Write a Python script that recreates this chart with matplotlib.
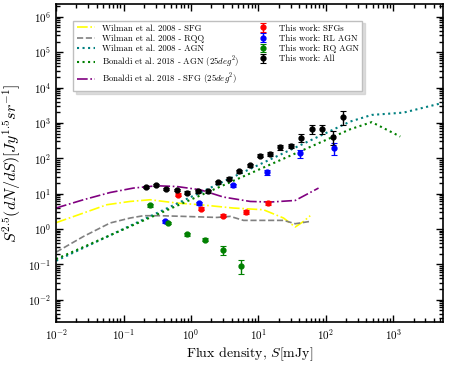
import numpy as np
import matplotlib
matplotlib.use("Agg")
import matplotlib.pyplot as plt
from matplotlib.ticker import LogLocator, NullFormatter

plt.rcParams['font.family'] = 'serif'
plt.rcParams['font.serif'] = ['cmr10', 'DejaVu Serif']
plt.rcParams['mathtext.fontset'] = 'cm'
plt.rcParams['axes.formatter.use_mathtext'] = True
plt.rcParams['axes.unicode_minus'] = False

# ---- Data: model curves ----
wil_sfg_S = [0.01, 0.0254, 0.0565, 0.125, 0.248, 0.618, 1.37, 4.28, 11.9, 23.6, 35.2, 46.7, 58.7]
wil_sfg_v = [1.5, 2.81, 4.83, 5.98, 6.68, 5.38, 4.83, 3.89, 3.48, 2.03, 1.13, 1.63, 2.36]

wil_rqq_S = [0.01, 0.0254, 0.0632, 0.125, 0.197, 0.349, 0.774, 2.42, 3.82, 6.01, 23.6, 35.2, 58.7]
wil_rqq_v = [0.22, 0.61, 1.47, 2.03, 2.36, 2.36, 2.26, 2.11, 2.26, 1.74, 1.74, 1.40, 1.63]

wil_agn_S = [0.01, 230, 480, 1420, 5500]
wil_agn_v = [0.125, 1090, 1680, 1950, 3700]

bon_agn_S = [0.01, 230, 480, 1270]
bon_agn_v = [0.14, 660, 1050, 410]

bon_sfg_S = [0.01, 0.0254, 0.0632, 0.140, 0.312, 0.618, 1.37, 3.03, 7.55, 15.0, 35.2, 78.0]
bon_sfg_v = [3.9, 6.68, 10.7, 14.3, 16.6, 15.8, 12.8, 7.96, 5.98, 5.75, 6.38, 14.3]

# ---- Data: this work ----
sfg_S = [0.646, 1.42, 3.0, 6.6, 14.1]
sfg_v = [9.25, 3.72, 2.36, 3.06, 5.38]
sfg_e = [0.8, 0.35, 0.22, 0.35, 0.6]

rl_S = [0.414, 1.32, 4.18, 13.4, 41.7, 130]
rl_v = [1.63, 5.25, 17.4, 40.4, 139, 193]
rl_e = [0.15, 0.5, 1.8, 7.0, 35, 70]

rq_S = [0.248, 0.463, 0.87, 1.59, 2.94, 5.5]
rq_v = [4.6, 1.47, 0.72, 0.49, 0.254, 0.092]
rq_e = [0.4, 0.13, 0.07, 0.05, 0.07, 0.04]

all_S = [0.214, 0.305, 0.428, 0.618, 0.87, 1.25, 1.78, 2.56, 3.65, 5.19, 7.38,
         10.4, 15.0, 21.1, 30.3, 43.1, 61.4, 87.5, 126, 177]
all_v = [14.9, 17.7, 13.4, 12.8, 10.7, 11.5, 11.5, 20.6, 26.2, 43.1, 62.2,
         119, 133, 206, 224, 384, 664, 690, 410, 1507]
all_e = [1.0, 1.2, 1.0, 1.0, 0.9, 1.0, 1.0, 1.8, 2.5, 4, 6,
         12, 18, 30, 35, 100, 180, 200, 180, 650]

fig = plt.figure(figsize=(4.49, 3.69), dpi=100)
ax = fig.add_axes([0.125, 0.127, 0.862, 0.862])

ax.plot(wil_sfg_S, wil_sfg_v, color='yellow', ls='-.', lw=1.2, label='Wilman et al. 2008 - SFG')
ax.plot(wil_rqq_S, wil_rqq_v, color='gray', ls='--', lw=1.2, label='Wilman et al. 2008 - RQQ')
ax.plot(wil_agn_S, wil_agn_v, color='teal', ls=':', lw=1.5, label='Wilman et al. 2008 - AGN')
ax.plot(bon_agn_S, bon_agn_v, color='green', ls=':', lw=1.5, label=r'Bonaldi et al. 2018 - AGN $(25deg^2)$')
ax.plot(bon_sfg_S, bon_sfg_v, color='purple', ls='-.', lw=1.2, label=r'Bonaldi et al. 2018 - SFG $(25deg^2)$')

ekw = dict(fmt='o', ms=3.5, capsize=2, elinewidth=1, capthick=0.8, lw=0)
ax.errorbar(sfg_S, sfg_v, yerr=sfg_e, color='red', label='This work: SFGs', **ekw)
ax.errorbar(rl_S, rl_v, yerr=rl_e, color='blue', label='This work: RL AGN', **ekw)
ax.errorbar(rq_S, rq_v, yerr=rq_e, color='green', label='This work: RQ AGN', **ekw)
ax.errorbar(all_S, all_v, yerr=all_e, color='black', label='This work: All', **ekw)

ax.set_xscale('log')
ax.set_yscale('log')
ax.set_xlim(0.01, 5500)
ax.set_ylim(0.0023, 2.3e6)

ax.xaxis.set_major_locator(LogLocator(base=10, numticks=20))
ax.yaxis.set_major_locator(LogLocator(base=10, numticks=20))
ax.xaxis.set_minor_locator(LogLocator(base=10, subs=np.arange(2, 10), numticks=100))
ax.yaxis.set_minor_locator(LogLocator(base=10, subs=np.arange(2, 10), numticks=100))
ax.xaxis.set_minor_formatter(NullFormatter())
ax.yaxis.set_minor_formatter(NullFormatter())
ax.tick_params(which='both', direction='in', top=True, right=True, labelsize=8, width=1)
ax.tick_params(which='major', length=5)
ax.tick_params(which='minor', length=3)
for s in ax.spines.values():
    s.set_linewidth(1.2)

ax.set_xlabel(r'Flux density, $S$[mJy]', fontsize=10, labelpad=3)
ax.set_ylabel(r'$S^{2.5}(dN/dS)[Jy^{1.5}sr^{-1}]$', fontsize=11.5)

ax.legend(loc='upper left', bbox_to_anchor=(0.044, 0.948), ncol=2, fontsize=6.3,
          frameon=True, fancybox=False, shadow={'color': '0.75'}, edgecolor='0.75',
          handlelength=2.1, handletextpad=0.8, columnspacing=1.6, labelspacing=0.22,
          borderpad=0.4, borderaxespad=0)

fig.savefig('out.png', dpi=100)
